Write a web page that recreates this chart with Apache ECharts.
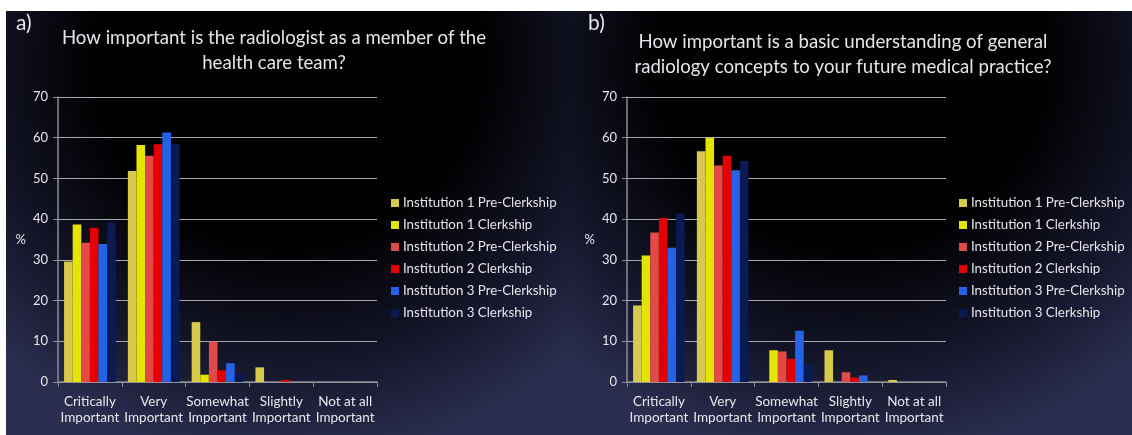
<!DOCTYPE html>
<html>
<head>
<meta charset="utf-8">
<script src="https://cdn.jsdelivr.net/npm/echarts@6/dist/echarts.min.js"></script>
<style>
  html, body { margin: 0; padding: 0; background: #fff; }
  #bg { position: absolute; left: 6px; top: 11px; width: 1126px; height: 424px; display: flex; }
  #bg div { flex: 1; background: radial-gradient(ellipse 75% 95% at 50% 12%, #000 45%, #14162a 75%, #2b2e50 100%); }
  #chart { position: absolute; left: 0; top: 0; width: 1132px; height: 435px; }
</style>
</head>
<body>
<div id="bg"><div></div><div></div></div>
<div id="chart"></div>
<script>
// 类别与序列
var categories = ['Critically\nImportant', 'Very\nImportant', 'Somewhat\nImportant', 'Slightly\nImportant', 'Not at all\nImportant'];
var seriesNames = ['Institution 1 Pre-Clerkship', 'Institution 1 Clerkship', 'Institution 2 Pre-Clerkship',
                   'Institution 2 Clerkship', 'Institution 3 Pre-Clerkship', 'Institution 3 Clerkship'];
var seriesColors = ['#d6c94c', '#e5e300', '#e24a4a', '#e30000', '#2563e6', '#0b1a52'];
var yTicks = [0, 10, 20, 30, 40, 50, 60, 70];

// a) 放射科医生作为医疗团队成员的重要性
var teamInst1Pre = [29.6, 51.8, 14.7, 3.6, 0];
var teamInst1Clk = [38.7, 58.2, 1.8, 0, 0];
var teamInst2Pre = [34.2, 55.6, 9.9, 0, 0];
var teamInst2Clk = [37.9, 58.4, 2.9, 0.5, 0];
var teamInst3Pre = [33.9, 61.3, 4.6, 0, 0];
var teamInst3Clk = [39.2, 58.5, 2.0, 0, 0];

// b) 基本放射学概念的重要性
var basicInst1Pre = [18.8, 56.7, 0, 7.8, 0.5];
var basicInst1Clk = [31.1, 60.0, 7.8, 0, 0];
var basicInst2Pre = [36.7, 53.2, 7.5, 2.4, 0];
var basicInst2Clk = [40.3, 55.6, 5.7, 1.1, 0];
var basicInst3Pre = [33.0, 52.0, 12.6, 1.6, 0];
var basicInst3Clk = [41.3, 54.3, 4.3, 0, 0];

var teamData = [teamInst1Pre, teamInst1Clk, teamInst2Pre, teamInst2Clk, teamInst3Pre, teamInst3Clk];
var basicData = [basicInst1Pre, basicInst1Clk, basicInst2Pre, basicInst2Clk, basicInst3Pre, basicInst3Clk];

var FONT = 'Lato, "Open Sans", sans-serif';
var TXT = '#e6e6ea';

function makeX(idx) {
    return {
        type: 'category', gridIndex: idx, data: categories,
        axisLine: { lineStyle: { color: '#8c8c94', width: 1.5 } },
        axisTick: { show: true, alignWithLabel: false, length: 5, lineStyle: { color: '#8c8c94' } },
        axisLabel: { color: TXT, fontFamily: FONT, fontSize: 13.5, lineHeight: 16, margin: 12, interval: 0 }
    };
}
function makeY(idx) {
    return {
        type: 'value', gridIndex: idx, min: yTicks[0], max: yTicks[yTicks.length - 1], interval: 10,
        name: '%', nameLocation: 'middle', nameRotate: 0, nameGap: 32,
        nameTextStyle: { color: TXT, fontFamily: FONT, fontSize: 13, padding: [0, 0, 14, 0] },
        axisLine: { show: true, lineStyle: { color: '#8c8c94', width: 1.5 } },
        axisTick: { show: true, length: 5, lineStyle: { color: '#8c8c94' } },
        axisLabel: { color: TXT, fontFamily: FONT, fontSize: 13, margin: 10 },
        splitLine: { lineStyle: { color: '#a6a6ad', width: 1.2 } }
    };
}

var series = [];
[teamData, basicData].forEach(function (set, g) {
    set.forEach(function (vals, i) {
        series.push({
            type: 'bar', name: seriesNames[i], xAxisIndex: g, yAxisIndex: g,
            data: vals, barGap: '0%', barCategoryGap: '19%',
            itemStyle: { color: seriesColors[i] }
        });
    });
});

function makeLegend(left) {
    return {
        left: left, top: 191, orient: 'vertical', data: seriesNames,
        itemWidth: 8, itemHeight: 8, itemGap: 8, icon: 'rect',
        textStyle: { color: TXT, fontFamily: FONT, fontSize: 13.3, lineHeight: 14, padding: [0, 0, 0, -1] }
    };
}

var chart = echarts.init(document.getElementById('chart'));
chart.setOption({
    animation: false,
    color: seriesColors,
    title: [
        { text: 'a)', left: 11, top: 8, textStyle: { color: TXT, fontFamily: FONT, fontSize: 21, fontWeight: 'normal' } },
        { text: 'b)', left: 583, top: 8, textStyle: { color: TXT, fontFamily: FONT, fontSize: 21, fontWeight: 'normal' } },
        { text: 'How important is the radiologist as a member of the\nhealth care team?', left: 269, top: 20, textAlign: 'center',
          textStyle: { color: TXT, fontFamily: FONT, fontSize: 18.6, fontWeight: 'normal', lineHeight: 25 } },
        { text: 'How important is a basic understanding of general\nradiology concepts to your future medical practice?', left: 838, top: 24, textAlign: 'center',
          textStyle: { color: TXT, fontFamily: FONT, fontSize: 18.6, fontWeight: 'normal', lineHeight: 25 } }
    ],
    legend: [makeLegend(386), makeLegend(954)],
    grid: [
        { left: 58, top: 97, width: 319, height: 285 },
        { left: 627, top: 97, width: 319, height: 285 }
    ],
    xAxis: [makeX(0), makeX(1)],
    yAxis: [makeY(0), makeY(1)],
    series: series
});
</script>
</body>
</html>
